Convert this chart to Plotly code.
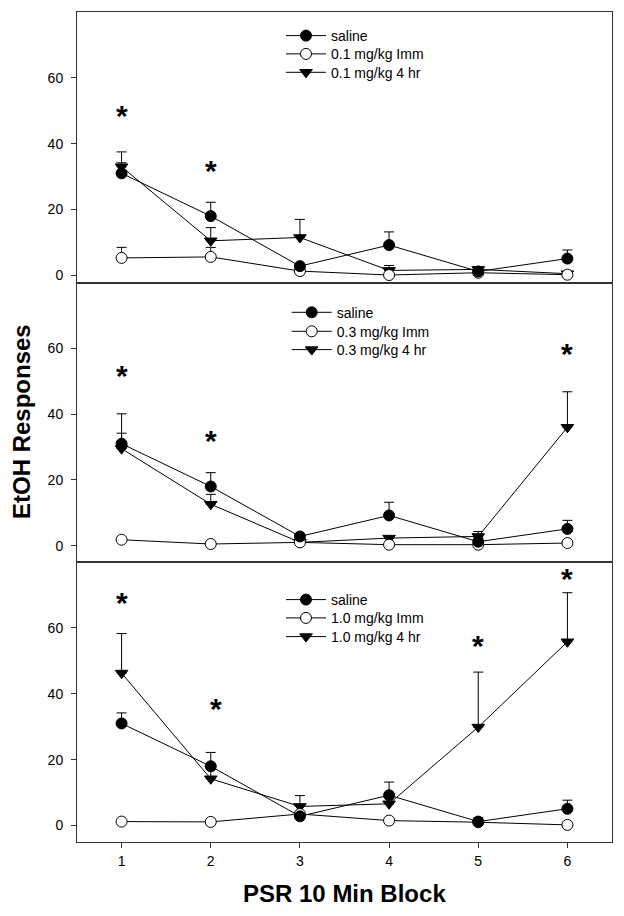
import plotly.graph_objects as go
from plotly.subplots import make_subplots

# ---------------- data ----------------
blocks = [1, 2, 3, 4, 5, 6]
x_ticks = [1, 2, 3, 4, 5, 6]
y_ticks = [0, 20, 40, 60]

saline = [31.0, 18.0, 2.8, 9.2, 1.2, 5.1]
saline_err = [3.2, 4.2, 0.6, 4.0, 1.2, 2.6]

imm_01 = [5.3, 5.6, 1.3, 0.1, 0.8, 0.2]
imm_01_err = [3.2, 2.9, 0.0, 0.0, 0.0, 0.0]
hr4_01 = [33.0, 10.5, 11.5, 1.5, 1.8, 0.5]
hr4_01_err = [4.5, 4.0, 5.5, 1.5, 0.8, 0.5]

imm_03 = [1.8, 0.5, 1.0, 0.3, 0.3, 0.8]
imm_03_err = [0.0, 0.0, 0.0, 0.0, 0.0, 0.0]
hr4_03 = [29.5, 12.6, 1.0, 2.3, 2.8, 36.0]
hr4_03_err = [10.6, 3.0, 0.5, 0.0, 1.5, 10.8]

imm_10 = [1.2, 1.1, 3.5, 1.5, 1.0, 0.2]
imm_10_err = [0.0, 0.0, 0.0, 0.0, 0.0, 0.0]
hr4_10 = [46.3, 14.2, 5.8, 6.6, 29.9, 55.8]
hr4_10_err = [12.0, 3.0, 3.3, 2.0, 16.7, 14.9]

legend_names = [
    ["saline", "0.1 mg/kg Imm", "0.1 mg/kg 4 hr"],
    ["saline", "0.3 mg/kg Imm", "0.3 mg/kg 4 hr"],
    ["saline", "1.0 mg/kg Imm", "1.0 mg/kg 4 hr"],
]

# significance stars (x, y) per panel
stars_x = [[1, 2], [1, 2, 6], [1, 2.06, 5, 6]]
stars_y = [[49.3, 32.4], [52.4, 32.7, 59.1], [68.2, 36.3, 55.4, 75.6]]

y_ranges = [[-2.2, 80], [-5, 80], [-5, 80]]

x_title = "PSR 10 Min Block"
y_title = "EtOH Responses"

# ---------------- figure ----------------
W, H = 624, 916
ML, MR, MT, MB = 77, 12, 12, 74

fig = make_subplots(rows=3, cols=1, shared_xaxes=True, vertical_spacing=0,
                    row_heights=[270.7, 279.6, 280.0])

panels = [
    (imm_01, imm_01_err, hr4_01, hr4_01_err),
    (imm_03, imm_03_err, hr4_03, hr4_03_err),
    (imm_10, imm_10_err, hr4_10, hr4_10_err),
]

LINE = dict(color="black", width=1)

pw = W - ML - MR
ph = H - MT - MB


def px_x(p):
    return (p - ML) / pw


def px_y(p):
    return 1 - (p - MT) / ph


# legend left edge (px) for each panel, and row centres (px)
legend_left_x = [281, 286.7, 281]
legend_rows_y = [[35, 53.3, 71.7], [311.7, 330.7, 349], [599, 617.3, 636]]

legend_kw = {}
for i, (imm, imm_e, hr, hr_e) in enumerate(panels):
    row = i + 1
    series = [
        (saline, saline_err, dict(symbol="circle", color="black", size=11,
                                  line=dict(color="black", width=1))),
        (imm, imm_e, dict(symbol="circle", color="white", size=11,
                          line=dict(color="black", width=1))),
        (hr, hr_e, dict(symbol="triangle-down", color="black", size=11,
                        line=dict(color="black", width=1))),
    ]
    for j in [2, 1, 0]:
        vals, errs, mk = series[j]
        n = i * 3 + j + 1
        key = "legend" if n == 1 else f"legend{n}"
        legend_kw[key] = dict(
            x=px_x(legend_left_x[i]), y=px_y(legend_rows_y[i][j] - 15),
            xanchor="left", yanchor="top", bgcolor="rgba(0,0,0,0)",
            borderwidth=0, itemwidth=40,
            font=dict(family="Arial", size=14, color="black"))
        fig.add_trace(go.Scatter(
            x=blocks, y=vals, mode="lines+markers",
            name=legend_names[i][j], line=LINE, marker=mk,
            error_y=dict(type="data", symmetric=False, array=errs,
                         arrayminus=[0] * len(errs), color="black",
                         thickness=1, width=5),
            legend=key, showlegend=True,
        ), row=row, col=1)

    ax = "" if row == 1 else str(row)
    for sx, sy in zip(stars_x[i], stars_y[i]):
        fig.add_annotation(x=sx, y=sy, xref=f"x{ax}", yref=f"y{ax}",
                           text="<b>*</b>", showarrow=False, yshift=-2,
                           font=dict(family="Arial", size=30, color="black"))

    fig.update_yaxes(range=y_ranges[i], tickvals=y_ticks, ticks="outside",
                     ticklen=5, tickcolor="#333", showline=True, linecolor="#333",
                     linewidth=1, mirror=True, showgrid=False, zeroline=False,
                     ticklabelstandoff=5, automargin=False,
                     tickfont=dict(family="Arial", size=14, color="black"),
                     row=row, col=1)
    fig.update_xaxes(range=[0.5, 6.5], tickvals=x_ticks, showline=True,
                     linecolor="#333", linewidth=1, mirror=True, showgrid=False,
                     zeroline=False, automargin=False, row=row, col=1,
                     ticks="outside" if row == 3 else "", ticklen=5,
                     tickcolor="#333", ticklabelstandoff=1,
                     tickfont=dict(family="Arial", size=14, color="black"))

fig.update_layout(
    width=W, height=H, margin=dict(l=ML, r=MR, t=MT, b=MB),
    plot_bgcolor="white", paper_bgcolor="white",
    font=dict(family="Arial", color="black"),
    **legend_kw,
)

fig.add_annotation(x=px_x(344), y=px_y(893), xref="paper", yref="paper",
                   xanchor="center", yanchor="middle",
                   text=f"<b>{x_title}</b>", showarrow=False,
                   font=dict(family="Arial", size=24, color="black"))
fig.add_annotation(x=px_x(22), y=px_y(422), xref="paper", yref="paper",
                   xanchor="center", yanchor="middle",
                   text=f"<b>{y_title}</b>", showarrow=False, textangle=-90,
                   font=dict(family="Arial", size=24, color="black"))

fig.write_html("out.html", config={"displayModeBar": False},
               post_script="document.body.style.margin='0';")
